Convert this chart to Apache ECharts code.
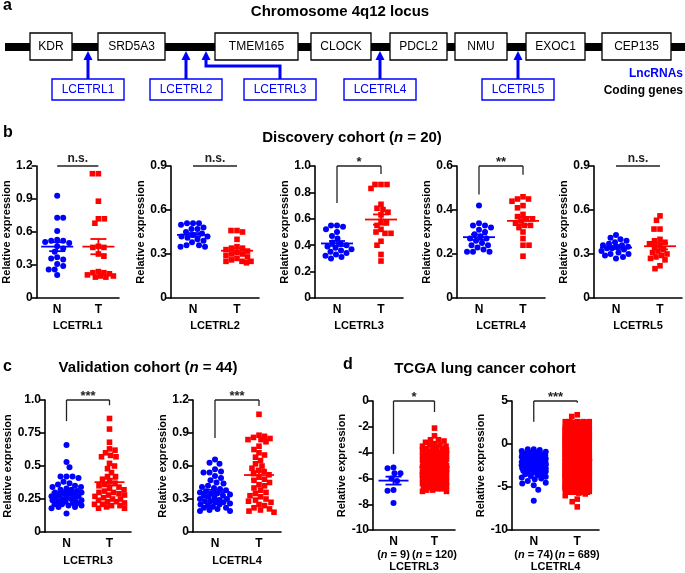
<!DOCTYPE html>
<html><head><meta charset="utf-8">
<script src="https://cdn.jsdelivr.net/npm/echarts@6/dist/echarts.min.js"></script>
<style>html,body{margin:0;padding:0;background:#fff}#c{width:685px;height:573px}</style>
</head><body><div id="c"></div>
<script>
const FONT = '"Liberation Sans", Arial, Helvetica, sans-serif';
const BLUE = '#0000ff', RED = '#ff0000';
const groups = ['N', 'T'];

// ---- panel a ----
const codingGenes = ['KDR', 'SRD5A3', 'TMEM165', 'CLOCK', 'PDCL2', 'NMU', 'EXOC1', 'CEP135'];
const lncRNAs = ['LCETRL1', 'LCETRL2', 'LCETRL3', 'LCETRL4', 'LCETRL5'];

// ---- panel b : discovery cohort (n = 20) ----
const b1N = [0.93,0.73,0.73,0.61,0.53,0.52,0.52,0.51,0.50,0.47,0.45,0.42,0.37,0.36,0.35,0.31,0.29,0.26,0.26,0.21];
const b1T = [1.13,1.13,0.88,0.72,0.72,0.68,0.47,0.46,0.46,0.40,0.38,0.24,0.23,0.23,0.22,0.21,0.20,0.20,0.19,0.19];
const b2N = [0.51,0.51,0.51,0.50,0.48,0.47,0.47,0.45,0.44,0.43,0.42,0.42,0.41,0.40,0.39,0.38,0.36,0.36,0.35,0.35];
const b2T = [0.46,0.46,0.45,0.40,0.35,0.34,0.34,0.33,0.32,0.31,0.30,0.30,0.29,0.28,0.27,0.26,0.25,0.25,0.25,0.24];
const b3N = [0.55,0.55,0.54,0.52,0.50,0.47,0.45,0.42,0.41,0.40,0.39,0.38,0.37,0.36,0.35,0.34,0.33,0.32,0.31,0.30];
const b3T = [0.86,0.86,0.86,0.83,0.71,0.68,0.67,0.63,0.65,0.58,0.57,0.55,0.49,0.49,0.52,0.50,0.43,0.40,0.33,0.28];
const b4N = [0.42,0.34,0.33,0.33,0.32,0.31,0.30,0.29,0.28,0.27,0.27,0.26,0.25,0.24,0.24,0.23,0.22,0.21,0.21,0.21];
const b4T = [0.46,0.45,0.45,0.44,0.42,0.41,0.38,0.37,0.36,0.36,0.35,0.34,0.33,0.33,0.32,0.30,0.27,0.24,0.24,0.19];
const b5N = [0.43,0.41,0.40,0.39,0.38,0.37,0.36,0.36,0.35,0.35,0.34,0.34,0.33,0.32,0.31,0.30,0.30,0.29,0.28,0.27];
const b5T = [0.56,0.53,0.47,0.47,0.40,0.39,0.38,0.37,0.36,0.35,0.33,0.32,0.31,0.30,0.29,0.28,0.27,0.26,0.22,0.20];

// ---- panel c : validation cohort (n = 44) ----
const c1N = [0.66,0.53,0.49,0.42,0.42,0.42,0.41,0.38,0.37,0.36,0.35,0.34,0.34,0.33,0.32,0.32,0.31,0.30,0.30,0.29,0.29,0.28,0.28,0.27,0.27,0.26,0.26,0.25,0.25,0.25,0.24,0.24,0.23,0.23,0.22,0.22,0.21,0.21,0.20,0.20,0.19,0.19,0.18,0.14];
const c1T = [0.86,0.78,0.68,0.63,0.62,0.60,0.58,0.57,0.57,0.52,0.50,0.48,0.45,0.42,0.42,0.40,0.38,0.37,0.36,0.35,0.34,0.33,0.32,0.31,0.30,0.30,0.29,0.28,0.28,0.27,0.26,0.25,0.25,0.24,0.23,0.23,0.22,0.21,0.21,0.20,0.20,0.19,0.18,0.18];
const c2N = [0.66,0.63,0.62,0.57,0.55,0.54,0.54,0.51,0.49,0.47,0.45,0.44,0.42,0.41,0.40,0.39,0.38,0.37,0.36,0.35,0.35,0.34,0.33,0.33,0.32,0.31,0.30,0.30,0.29,0.28,0.28,0.27,0.27,0.26,0.25,0.25,0.24,0.23,0.22,0.22,0.21,0.20,0.19,0.19];
const c2T = [1.07,0.88,0.87,0.86,0.85,0.84,0.84,0.82,0.78,0.75,0.72,0.70,0.68,0.65,0.62,0.60,0.58,0.56,0.55,0.53,0.52,0.50,0.48,0.47,0.45,0.43,0.42,0.40,0.38,0.36,0.35,0.33,0.32,0.30,0.29,0.28,0.27,0.25,0.24,0.22,0.21,0.20,0.19,0.18];

// ---- panel d : TCGA lung cancer cohort ----
const d1N = [-5.2,-5.15,-5.6,-5.6,-6.0,-6.2,-6.9,-6.95,-7.9];
const d1T = [-2.1,-2.7,-3.0,-3.0,-3.1,
 -3.2,-3.3,-3.4,-3.4,-3.5,-3.6,-3.6,-3.7,-3.8,-3.8,
 -3.9,-4.0,-4.0,-4.1,-4.1,-4.2,-4.2,-4.3,-4.3,-4.4,
 -4.4,-4.5,-4.5,-4.5,-4.6,-4.6,-4.7,-4.7,-4.7,-4.8,
 -4.8,-4.8,-4.9,-4.9,-4.9,-5.0,-5.0,-5.0,-5.1,-5.1,
 -5.1,-5.1,-5.2,-5.2,-5.2,-5.3,-5.3,-5.3,-5.3,-5.4,
 -5.4,-5.4,-5.5,-5.5,-5.5,-5.5,-5.6,-5.6,-5.6,-5.7,
 -5.7,-5.7,-5.7,-5.8,-5.8,-5.8,-5.9,-5.9,-5.9,-6.0,
 -6.0,-6.0,-6.1,-6.1,-6.1,-6.2,-6.2,-6.2,-6.3,-6.3,
 -6.3,-6.4,-6.4,-6.4,-6.5,-6.5,-6.6,-6.6,-6.7,-6.7,
 -6.8,-6.8,-6.9,-6.9,-7.0,-7.0,-4.6,-5.0,-5.4,-3.9,
 -4.2,-5.6,-6.1,-3.5,-4.8,-5.2,-5.9,-6.5,-4.4,-3.7,
 -4.0,-5.3,-6.0,-4.9,-5.8];
const d2N = [-0.6,-0.6,-0.7,-0.8,-0.9,-1.0,-1.0,-1.1,-1.2,-1.2,
 -1.3,-1.3,-1.4,-1.4,-1.5,-1.5,-1.6,-1.6,-1.7,-1.7,
 -1.8,-1.8,-1.9,-1.9,-2.0,-2.0,-2.0,-2.1,-2.1,-2.2,
 -2.2,-2.2,-2.3,-2.3,-2.4,-2.4,-2.5,-2.5,-2.5,-2.6,
 -2.6,-2.7,-2.7,-2.8,-2.8,-2.9,-2.9,-3.0,-3.0,-3.1,
 -3.1,-3.2,-3.2,-3.3,-3.4,-3.5,-3.6,-3.7,-3.8,-3.9,
 -4.0,-4.1,-4.3,-4.5,-4.6,-4.8,-5.3,-6.6,-1.9,-2.3,
 -2.6,-1.5,-2.1,-2.8];
const d2T = [
 2.4,-3.1,0.6,-4.8,-1.2,1.5,-2.7,-0.3,-5.2,-1.9,
 2.1,-3.6,0.2,-4.4,-1.6,1.1,-2.2,-0.8,-5.5,-2.4,
 2.6,-2.9,0.9,-4.1,-1.0,1.8,-3.3,-0.1,-5.0,-2.0,
 1.9,-3.8,0.4,-4.6,-1.4,1.3,-2.5,-0.6,-5.3,-1.7,
 2.3,-3.4,0.7,-4.9,-1.1,1.6,-2.9,-0.4,-5.6,-2.2,
 2.0,-3.0,0.1,-4.3,-1.8,0.9,-2.4,-0.9,-5.1,-2.6,
 2.5,-3.7,0.5,-4.7,-1.3,1.4,-2.8,-0.2,-5.4,-1.5,
 1.7,-3.2,0.3,-4.2,-1.7,1.2,-2.1,-1.0,-4.9,-2.3,
 2.2,-3.5,0.8,-4.5,-0.9,1.7,-3.0,-0.5,-5.5,-1.8,
 1.8,-3.9,0.0,-4.0,-1.5,1.0,-2.6,-0.7,-5.2,-2.1,
 2.6,-2.5,0.3,-3.9,-1.9,0.8,-3.4,-0.6,-5.0,-2.8,
 1.6,-3.3,-0.2,-4.6,-2.0,1.4,-2.6,-1.1,-5.4,-3.1,
 2.2,-2.8,0.6,-4.2,-1.4,0.5,-3.6,-0.8,-4.7,-2.5,
 1.4,-3.5,0.9,-5.0,-2.3,1.9,-2.0,-1.3,-5.6,-2.9,
 2.0,-4.0,-0.1,-4.4,-1.6,1.1,-3.2,-0.4,-5.1,-2.2,
 1.3,-2.7,0.4,-3.8,-2.1,0.7,-3.8,-1.5,-4.8,-2.7,
 2.4,-3.6,1.2,-4.9,-1.2,0.2,-2.4,-0.9,-5.3,-3.3,
 1.0,-3.0,-0.4,-4.1,-1.8,1.5,-2.9,-1.2,-5.5,-2.0,
 2.5,-3.8,0.7,-4.5,-2.4,0.4,-3.1,-0.3,-4.6,-2.6,
 1.5,-2.6,0.1,-4.8,-1.5,1.0,-3.5,-1.6,-5.2,-3.0,
 2.1,-3.4,-0.5,-4.3,-2.2,1.7,-2.3,-0.7,-5.0,-2.4,
 0.9,-3.9,0.5,-4.0,-1.3,0.3,-3.7,-1.4,-5.6,-2.8,
 2.3,-2.9,1.0,-4.7,-2.5,1.2,-2.7,-0.2,-4.9,-3.2,
 1.2,-3.1,-0.3,-4.6,-1.7,0.6,-3.3,-1.0,-5.3,-2.1,
 2.6,-3.7,0.2,-4.2,-2.0,1.6,-2.5,-0.8,-5.4,-2.9,
 1.1,-2.4,0.8,-5.0,-1.4,0.1,-3.9,-1.7,-4.8,-2.3,
 1.8,-3.5,-0.6,-4.4,-2.6,1.3,-2.2,-0.5,-5.1,-3.4,
 0.8,-3.2,0.4,-3.9,-1.1,0.9,-3.0,-1.9,-5.5,-2.7,
 2.4,-4.1,1.1,-4.8,-2.3,0.0,-2.8,-0.1,-4.7,-2.2,
 1.4,-2.8,-0.1,-4.5,-1.9,1.8,-3.6,-1.3,-5.2,-3.1,
 2.0,-3.3,0.6,-4.1,-1.6,0.5,-2.4,-0.6,-5.6,-2.5,
 0.7,-3.8,0.3,-4.7,-2.1,1.4,-3.4,-1.1,-4.9,-2.0,
 2.2,-2.6,-0.2,-4.3,-1.2,0.8,-2.9,-0.4,-5.3,-3.3,
 1.6,-3.6,0.9,-5.0,-2.4,1.1,-2.1,-1.5,-5.0,-2.6,
 2.5,-3.0,0.0,-4.0,-1.8,0.2,-3.7,-0.9,-5.4,-2.8,
 1.0,-3.4,0.7,-4.6,-1.4,1.6,-2.6,-1.8,-4.6,-2.3,
 1.9,-2.9,-0.4,-4.4,-2.2,0.6,-3.2,-0.3,-5.5,-3.0,
 0.6,-3.7,0.2,-4.2,-1.5,1.3,-2.3,-1.2,-5.1,-2.1,
 2.3,-3.1,1.0,-4.9,-2.6,0.4,-3.5,-0.7,-4.8,-2.9,
 1.3,-4.0,-0.3,-4.5,-1.7,1.9,-2.7,-1.4,-5.3,-2.4,
 2.1,-2.7,0.5,-3.9,-1.3,0.7,-3.9,-0.2,-5.6,-3.2,
 0.5,-3.5,0.1,-4.7,-2.0,1.0,-2.2,-1.7,-5.0,-2.7,
 2.6,-3.2,-0.5,-4.1,-2.5,0.3,-3.1,-0.6,-4.7,-2.0,
 1.5,-3.9,0.8,-4.8,-1.6,1.5,-2.8,-1.0,-5.2,-3.5,
 1.7,-2.5,0.2,-4.3,-1.9,0.6,-3.3,-0.8,-5.4,-2.2,
 0.4,-3.3,-0.1,-4.6,-2.3,1.2,-2.4,-1.6,-4.9,-2.8,
 2.4,-3.6,0.6,-4.0,-1.1,0.1,-3.6,-0.4,-5.5,-3.0,
 1.1,-2.8,-0.4,-4.9,-2.1,1.7,-2.0,-1.3,-5.1,-2.5,
 2.0,-3.4,1.1,-4.4,-1.4,0.9,-3.8,-0.5,-4.6,-2.3,
 0.9,-3.0,0.3,-4.2,-2.6,1.4,-2.6,-1.9,-5.3,-3.4,
 2.2,-3.8,-0.2,-4.7,-1.7,0.4,-2.9,-0.1,-5.6,-2.1,
 1.2,-2.6,0.7,-4.5,-1.2,1.8,-3.2,-1.1,-5.0,-2.7,
 2.5,-3.5,0.0,-4.1,-2.4,0.0,-2.3,-0.9,-4.8,-3.1,
 0.8,-3.1,0.5,-4.8,-1.5,1.3,-3.5,-1.4,-5.4,-2.4,
 1.9,-3.9,-0.6,-4.3,-2.2,0.5,-2.5,-0.3,-5.2,-2.9,
 1.4,-2.7,0.9,-4.6,-1.8,1.1,-3.7,-1.7,-4.7,-2.2,
 2.3,-3.3,0.1,-4.0,-1.0,0.2,-2.8,-0.7,-5.5,-3.3,
 0.6,-3.6,-0.3,-4.9,-2.5,1.6,-2.1,-1.2,-5.1,-2.6,
 2.1,-2.9,0.6,-4.4,-1.6,0.8,-3.4,-0.5,-4.9,-2.0,
 1.0,-3.7,0.4,-4.2,-2.0,1.0,-3.0,-1.5,-5.3,-2.8,
 2.6,-3.0,-0.1,-4.7,-1.3,0.3,-2.4,-0.2,-5.6,-3.2,
 1.3,-3.4,0.8,-4.1,-2.3,1.5,-3.9,-1.8,-5.0,-2.3,
 1.8,-2.8,0.2,-4.5,-1.9,0.6,-2.6,-0.8,-4.6,-2.9,
 0.7,-3.8,-0.5,-4.8,-1.4,1.2,-3.3,-1.0,-5.4,-2.5,
 2.4,-3.2,1.0,-4.3,-2.6,0.1,-2.2,-0.6,-5.2,-3.0,
 1.5,-2.5,0.3,-4.6,-1.7,1.7,-3.6,-1.3,-4.8,-2.1,
 2.0,-3.5,-0.2,-4.0,-2.1,0.7,-2.7,-0.4,-5.5,-2.7,
 1.1,-3.1,0.7,-4.9,-1.2,1.4,-3.1,-1.6,-5.1,-3.4,
 3.4,3.2,-6.0,-6.4,-6.7,-7.3,-5.8,-5.7,-3.6];

// ---- y-axis tick values ----
const b1Ticks = [0, 0.3, 0.6, 0.9, 1.2];
const b2Ticks = [0, 0.3, 0.6, 0.9];
const b3Ticks = [0, 0.2, 0.4, 0.6, 0.8, 1.0];
const b4Ticks = [0, 0.2, 0.4, 0.6];
const b5Ticks = [0, 0.3, 0.6, 0.9];
const c1Ticks = [0, 0.25, 0.5, 0.75, 1.0];
const c2Ticks = [0, 0.3, 0.6, 0.9, 1.2];
const d1Ticks = [-10, -8, -6, -4, -2, 0];
const d2Ticks = [-10, -5, 0, 5];

// ---- layout / annotation config ----
const plots = [
  {vals:[b1N,b1T], ticks:b1Ticks, dec:true, gene:'LCETRL1', sig:'n.s.', legs:null,        g:{left:35, top:166, width:84, height:132}, nameGap:22, xGap:22, cap:15, mw:16},
  {vals:[b2N,b2T], ticks:b2Ticks, dec:true, gene:'LCETRL2', sig:'n.s.', legs:null,        g:{left:171,top:166, width:88, height:132}, nameGap:22, xGap:22, cap:15, mw:16},
  {vals:[b3N,b3T], ticks:b3Ticks, dec:true, gene:'LCETRL3', sig:'*',    legs:[0.72,0.94], g:{left:315,top:166, width:88, height:132}, nameGap:22, xGap:22, cap:15, mw:16},
  {vals:[b4N,b4T], ticks:b4Ticks, dec:true, gene:'LCETRL4', sig:'**',   legs:[0.47,0.56], g:{left:457,top:166, width:88, height:132}, nameGap:22, xGap:22, cap:15, mw:16},
  {vals:[b5N,b5T], ticks:b5Ticks, dec:true, gene:'LCETRL5', sig:'n.s.', legs:null,        g:{left:594,top:166, width:88, height:132}, nameGap:22, xGap:22, cap:15, mw:16},
  {vals:[c1N,c1T], ticks:c1Ticks, dec:true, gene:'LCETRL3', sig:'***',  legs:[0.84,0.96], g:{left:45, top:400, width:86, height:132}, nameGap:29, xGap:23, cap:15, mw:15},
  {vals:[c2N,c2T], ticks:c2Ticks, dec:true, gene:'LCETRL4', sig:'***',  legs:[0.855,1.145],g:{left:193,top:400, width:88, height:132}, nameGap:23, xGap:23, cap:15, mw:15},
  {vals:[d1N,d1T], ticks:d1Ticks, dec:false,gene:'LCETRL3', sig:'*',    legs:[-4.1,-0.85], g:{left:373,top:401, width:82, height:132}, nameGap:23, xGap:28, cap:12, mw:15, counts:true},
  {vals:[d2N,d2T], ticks:d2Ticks, dec:false,gene:'LCETRL4', sig:'***',  legs:[2.6,4.8],   g:{left:512,top:401, width:87, height:132}, nameGap:19, xGap:28, cap:12, mw:15, counts:true}
];

function meanSem(a) {
  const n = a.length, m = a.reduce((s, v) => s + v, 0) / n;
  const sd = Math.sqrt(a.reduce((s, v) => s + (v - m) * (v - m), 0) / (n - 1));
  return [m, sd / Math.sqrt(n)];
}
// deterministic beeswarm: horizontal pixel offsets so symbols do not overlap
function swarm(vals, pxPerUnit, diam, cap) {
  const order = vals.map((v, i) => i).sort((a, b) => vals[b] - vals[a]);
  const placed = [], off = new Array(vals.length);
  let flip = 1;
  for (const i of order) {
    const y = vals[i] * pxPerUnit;
    const near = placed.filter(p => Math.abs(p.y - y) < diam);
    let best = 0, bestScore = -1;
    outer:
    for (let k = 0; k <= cap; k += 0.5) {
      const cands = k === 0 ? [0] : [k * flip, -k * flip];
      for (const x of cands) {
        let md = Infinity;
        for (const p of near) { const d = Math.hypot(p.x - x, p.y - y); if (d < md) md = d; }
        if (md >= diam) { best = x; bestScore = Infinity; break outer; }
        if (md > bestScore) { bestScore = md; best = x; }
      }
    }
    flip = -flip;
    off[i] = best; placed.push({x: best, y});
  }
  return off;
}

const grids = [], xAxes = [], yAxes = [], series = [];
plots.forEach((p, k) => {
  const mn = p.ticks[0], mx = p.ticks[p.ticks.length - 1];
  grids.push(p.g);
  const counts = p.vals.map(v => v.length);
  xAxes.push({
    type: 'category', gridIndex: k, data: groups,
    axisLine: {onZero: false, lineStyle: {color: '#000', width: 1.6}},
    axisTick: {alignWithLabel: true, length: 5, lineStyle: {color: '#000', width: 1.6}},
    axisLabel: p.counts ? {
      interval: 0, margin: 5,
      formatter: (v, i) => `{g|${v}}\n{p|(}{i|n}{p| = ${counts[i]})}`,
      rich: {
        g: {fontFamily: FONT, fontWeight: 'bold', fontSize: 12, color: '#000', lineHeight: 13},
        p: {fontFamily: FONT, fontWeight: 'bold', fontSize: 11, color: '#000', lineHeight: 13},
        i: {fontFamily: FONT, fontWeight: 'bold', fontStyle: 'italic', fontSize: 11, color: '#000', lineHeight: 13}
      }
    } : {interval: 0, margin: 6, fontFamily: FONT, fontWeight: 'bold', fontSize: 12, color: '#000'},
    name: p.gene, nameLocation: 'middle', nameGap: p.xGap,
    nameTextStyle: {fontFamily: FONT, fontWeight: 'bold', fontSize: 11, color: '#000'},
    splitLine: {show: false}
  });
  yAxes.push({
    type: 'value', gridIndex: k, min: mn, max: mx, interval: p.ticks[1] - p.ticks[0],
    axisLine: {show: true, onZero: false, lineStyle: {color: '#000', width: 1.6}},
    axisTick: {show: true, length: 5, lineStyle: {color: '#000', width: 1.6}},
    axisLabel: {margin: 4, fontFamily: FONT, fontWeight: 'bold', fontSize: 12, color: '#000', showMinLabel: true, showMaxLabel: true,
      formatter: v => { v = +v.toFixed(4); if (v === 0) return '0'; return (p.dec && Number.isInteger(v)) ? v.toFixed(1) : String(v); }},
    splitLine: {show: false},
    name: 'Relative expression', nameLocation: 'middle', nameGap: p.nameGap, nameRotate: 90,
    nameTextStyle: {fontFamily: FONT, fontWeight: 'bold', fontSize: 11, color: '#000'}
  });
  const ppu = p.g.height / (mx - mn);
  p.vals.forEach((arr, gi) => {
    const isN = gi === 0;
    const diam = isN ? 6 : 5.6;
    const off = swarm(arr, ppu, diam, p.cap);
    series.push({
      type: 'scatter', xAxisIndex: k, yAxisIndex: k, symbol: isN ? 'circle' : 'rect', symbolSize: diam,
      itemStyle: {color: isN ? BLUE : RED, opacity: 1}, silent: true, z: 2,
      data: arr.map((v, i) => ({value: [gi, v], symbolOffset: [off[i], 0]}))
    });
  });
  // mean +/- SEM
  const stats = p.vals.map((arr, gi) => [gi].concat(meanSem(arr)));
  series.push({
    type: 'custom', xAxisIndex: k, yAxisIndex: k, data: stats, z: 5, silent: true, clip: false,
    renderItem: (params, api) => {
      const gi = api.value(0), m = api.value(1), s = api.value(2);
      const c = api.coord([gi, m]), t = api.coord([gi, m + s]), b = api.coord([gi, m - s]);
      const col = gi === 0 ? BLUE : RED, lw = 1.8, hw = p.mw, cw = 8;
      const st = {stroke: col, lineWidth: lw};
      return {type: 'group', children: [
        {type: 'line', shape: {x1: c[0] - hw, y1: c[1], x2: c[0] + hw, y2: c[1]}, style: st},
        {type: 'line', shape: {x1: t[0], y1: t[1], x2: b[0], y2: b[1]}, style: st},
        {type: 'line', shape: {x1: t[0] - cw, y1: t[1], x2: t[0] + cw, y2: t[1]}, style: st},
        {type: 'line', shape: {x1: b[0] - cw, y1: b[1], x2: b[0] + cw, y2: b[1]}, style: st}
      ]};
    }
  });
  // significance bracket / line
  series.push({
    type: 'custom', xAxisIndex: k, yAxisIndex: k, data: [[0]], z: 6, silent: true, clip: false,
    renderItem: (params, api) => {
      const a = api.coord([0, mx]), b = api.coord([1, mx]);
      const st = {stroke: '#222', lineWidth: 1.3};
      const ch = [{type: 'line', shape: {x1: a[0], y1: a[1], x2: b[0], y2: b[1]}, style: st}];
      if (p.legs) {
        const la = api.coord([0, p.legs[0]]), lb = api.coord([1, p.legs[1]]);
        ch.push({type: 'line', shape: {x1: a[0], y1: a[1], x2: la[0], y2: la[1]}, style: st});
        ch.push({type: 'line', shape: {x1: b[0], y1: b[1], x2: lb[0], y2: lb[1]}, style: st});
      }
      const isNs = p.sig === 'n.s.';
      ch.push({type: 'text', style: {text: p.sig, x: (a[0] + b[0]) / 2, y: a[1] - (isNs ? 1 : -3),
        align: 'center', textAlign: 'center', verticalAlign: 'bottom', textVerticalAlign: 'bottom',
        font: `bold ${isNs ? 12 : 13}px ${FONT}`, fill: '#222'}});
      return {type: 'group', children: ch};
    }
  });
});

// ---- graphic: panel a + titles + letters ----
const geneBoxX = [[30,72],[98,165],[215,298],[311,371],[390,447],[455,507],[526,585],[602,671]];
const lncBoxX = [[52,124],[150,222],[244,316],[344,416],[482,554]];
const lncArrowX = [88, 186, 206, 380, 518];
const G = [];
const txt = (text, x, y, font, fill, align) => ({type: 'text', z: 20, style: {text, x, y, font, fill: fill || '#000',
  align: align || 'center', textAlign: align || 'center', verticalAlign: 'middle', textVerticalAlign: 'middle'}});
G.push({type: 'rect', z: 10, shape: {x: 5, y: 43, width: 680, height: 8}, style: {fill: '#000'}});
codingGenes.forEach((gname, i) => {
  const [x0, x1] = geneBoxX[i];
  G.push({type: 'rect', z: 11, shape: {x: x0, y: 33, width: x1 - x0, height: 27}, style: {fill: '#fff', stroke: '#000', lineWidth: 1.3}});
  G.push(txt(gname, (x0 + x1) / 2, 47, `12px ${FONT}`));
});
lncRNAs.forEach((ln, i) => {
  const [x0, x1] = lncBoxX[i], cx = (x0 + x1) / 2, ax = lncArrowX[i];
  G.push({type: 'rect', z: 11, shape: {x: x0, y: 79, width: x1 - x0, height: 21}, style: {fill: '#fff', stroke: BLUE, lineWidth: 1.4}});
  G.push(txt(ln, cx, 90, `12px ${FONT}`, BLUE));
  const pts = Math.abs(ax - cx) > 10 ? [[cx, 79], [cx, 66], [ax, 66], [ax, 59]] : [[ax, 79], [ax, 59]];
  G.push({type: 'polyline', z: 12, shape: {points: pts}, style: {stroke: BLUE, lineWidth: 3, fill: null}});
  G.push({type: 'polygon', z: 12, shape: {points: [[ax - 4.5, 60], [ax + 4.5, 60], [ax, 51]]}, style: {fill: BLUE}});
});
G.push(txt('LncRNAs', 683, 74, `bold 12px ${FONT}`, BLUE, 'right'));
G.push(txt('Coding genes', 683, 91, `bold 12px ${FONT}`, '#000', 'right'));
G.push(txt('Chromosome 4q12 locus', 340, 12, `bold 15px ${FONT}`));
// panel letters
[['a', 3, 6], ['b', 3, 133], ['c', 3, 367], ['d', 343, 365]].forEach(([t, x, y]) => G.push(txt(t, x, y, `bold 16px ${FONT}`, '#000', 'left')));
// panel titles with italic n
const rich = {b: {fontFamily: FONT, fontWeight: 'bold', fontSize: 15, fill: '#000', color: '#000'},
              i: {fontFamily: FONT, fontWeight: 'bold', fontStyle: 'italic', fontSize: 15, fill: '#000', color: '#000'}};
const titleR = (parts, x, y) => ({type: 'text', z: 20, style: {text: parts, x, y, rich, font: `bold 15px ${FONT}`,
  align: 'center', textAlign: 'center', verticalAlign: 'middle', textVerticalAlign: 'middle'}});
G.push(titleR(`{b|Discovery cohort (}{i|n}{b| = ${b1N.length})}`, 352, 138));
G.push(titleR(`{b|Validation cohort (}{i|n}{b| = ${c1N.length})}`, 148, 368));
G.push(txt('TCGA lung cancer cohort', 485, 369, `bold 15px ${FONT}`));

const chart = echarts.init(document.getElementById('c'), null, {renderer: 'canvas'});
chart.setOption({
  animation: false, backgroundColor: '#fff',
  textStyle: {fontFamily: FONT},
  grid: grids, xAxis: xAxes, yAxis: yAxes, series, graphic: G
});
</script></body></html>
